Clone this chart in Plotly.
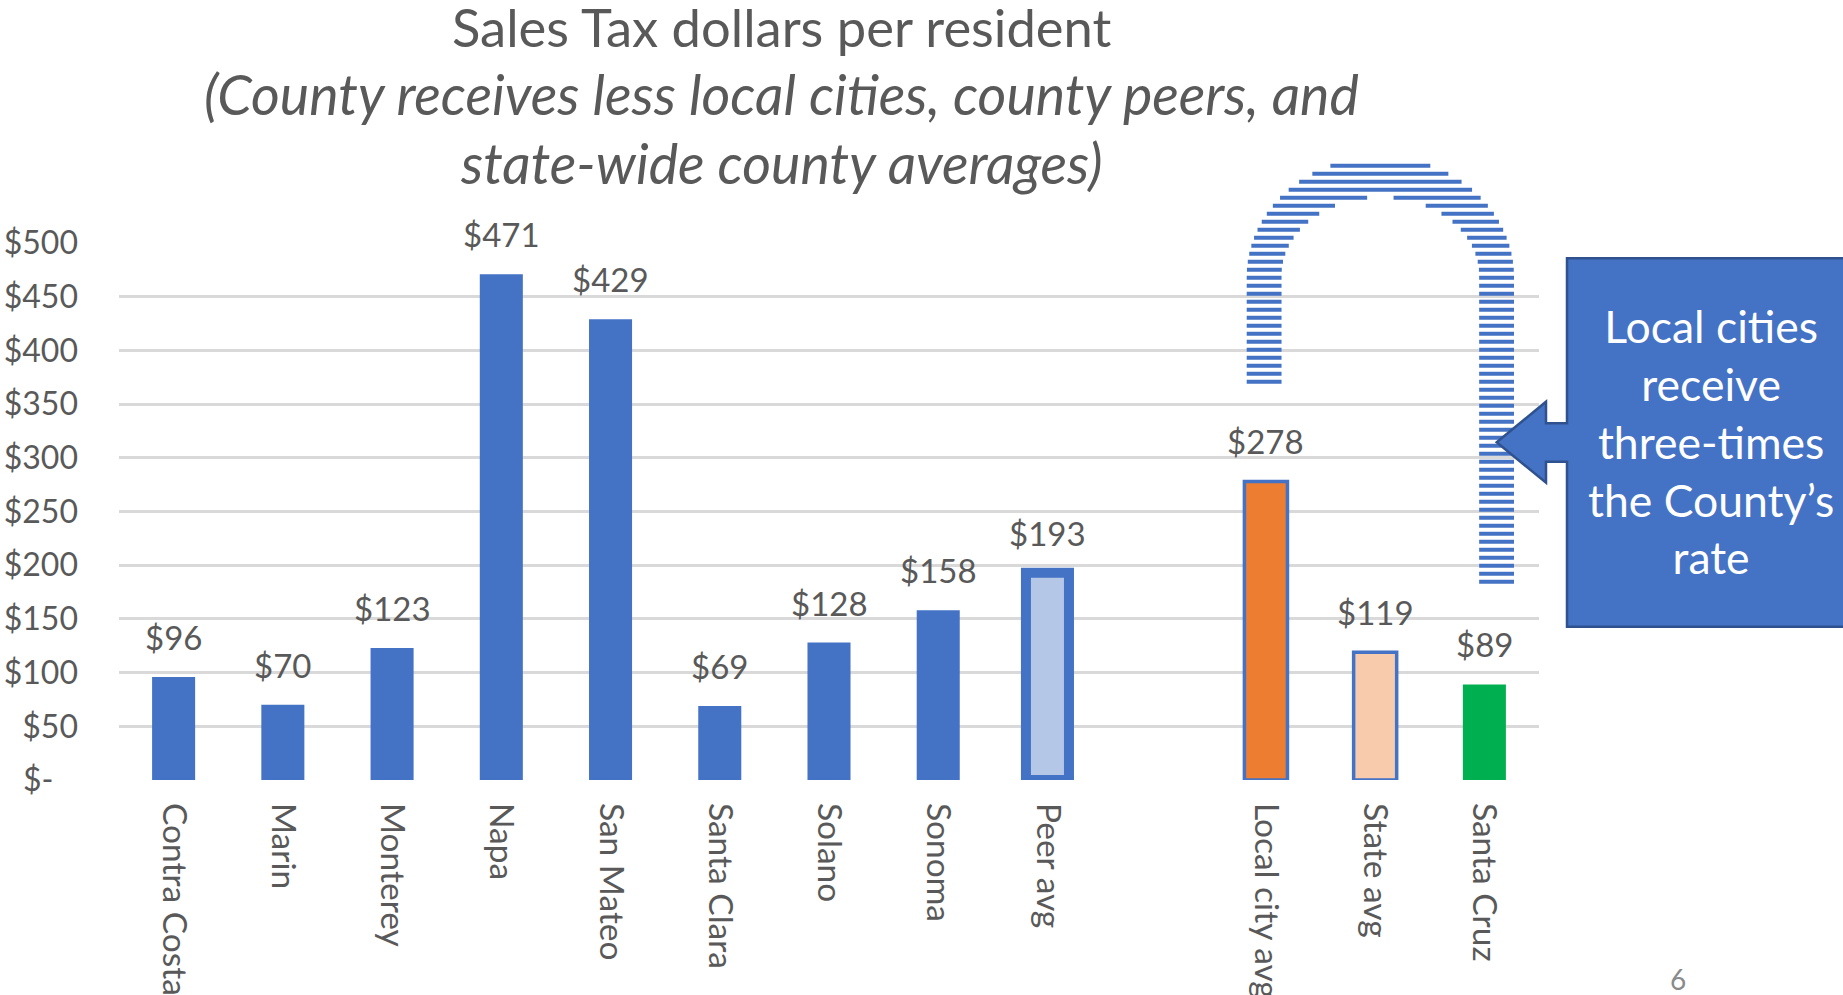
import math
import plotly.graph_objects as go

# ---------------- data ----------------
categories = ["Contra Costa", "Marin", "Monterey", "Napa", "San Mateo", "Santa Clara",
              "Solano", "Sonoma", "Peer avg", " ", "Local city avg", "State avg", "Santa Cruz"]
values = [96, 70, 123, 471, 429, 69, 128, 158, 193, None, 278, 119, 89]
fill_colors = ["#4472C4"] * 8 + ["#B4C7E7", "#FFFFFF", "#ED7D31", "#F8CBAD", "#00B050"]
line_colors = ["#4472C4"] * 8 + ["#4472C4", "#FFFFFF", "#4472C4", "#4472C4", "#00B050"]
line_widths = [0] * 8 + [10, 0, 3.5, 3.5, 0]

y_tick_vals = [0, 50, 100, 150, 200, 250, 300, 350, 400, 450, 500]
y_tick_text = ["$-\u00a0\u00a0\u00a0", "$50", "$100", "$150", "$200", "$250", "$300",
               "$350", "$400", "$450", "$500"]

title_line1 = "Sales Tax dollars per resident"
title_line2 = "(County receives less local cities, county peers, and"
title_line3 = "state-wide county averages)"
callout_text = "Local cities<br>receive<br>three-times<br>the County\u2019s<br>rate"
page_number = "6"

# ---------------- layout geometry (pixels) ----------------
W, H = 1843, 995
PL, PR, PT, PB = 119, 1539, 243, 780  # plot area edges


def px2x(x):
    return (x - PL) / (PR - PL)


def px2y(y):
    return (PB - y) / (PB - PT)


GRAY = "#595959"
FONT = "Lato"

fig = go.Figure()
fig.add_trace(go.Bar(
    x=categories, y=values, width=0.394,
    marker=dict(color=fill_colors, line=dict(color=line_colors, width=line_widths)),
    hoverinfo="x+y", showlegend=False,
))

annotations = []
# data labels
for c, v in zip(categories, values):
    if v is None:
        continue
    annotations.append(dict(x=c, y=v, xref="x", yref="y", text=f"${v}", showarrow=False,
                            yanchor="bottom", yshift=18,
                            font=dict(family=FONT, size=33, color=GRAY)))

# title lines
for txt, yc, fs in [(title_line1, 26, 52.5),
                    ("<i>" + title_line2 + "</i>", 94, 55.5),
                    ("<i>" + title_line3 + "</i>", 163, 55.5)]:
    annotations.append(dict(x=px2x(781), y=px2y(yc), xref="paper", yref="paper", text=txt,
                            showarrow=False, xanchor="center", yanchor="middle",
                            font=dict(family=FONT, size=fs, color=GRAY)))

# callout text
annotations.append(dict(x=px2x(1711), y=px2y(441), xref="paper", yref="paper", text=callout_text,
                        showarrow=False, xanchor="center", yanchor="middle", align="center",
                        font=dict(family=FONT, size=44.5, color="#FFFFFF")))
# page number
annotations.append(dict(x=px2x(1678), y=px2y(979), xref="paper", yref="paper", text=page_number,
                        showarrow=False, xanchor="center", yanchor="middle",
                        font=dict(family=FONT, size=28, color="#8A8A8A")))

shapes = []
# striped arch (decoration)
cx = (1246.7 + 1514.0) / 2
rx_o = (1514.0 - 1246.7) / 2
rx_i = (1479.3 - 1281.7) / 2
cy_o, ry_o, top_o = 277.0, 120.0, 164.0
cy_i, ry_i = 275.0, 78.0
left_bottom = 384.7
right_bottom = 583.7
pitch, thick = 8.0, 4.0
STRIPE = "#4472C4"


def half_width(ym, cyv, ryv, rxv):
    if ym >= cyv:
        return rxv
    d = cyv - ym
    if d >= ryv:
        return 0.0
    return rxv * math.sqrt(1 - (d / ryv) ** 2)


b = right_bottom
while (b - thick / 2) >= top_o:
    y0, y1 = b - thick, b
    ym = (y0 + y1) / 2
    hw_o = half_width(ym, cy_o, ry_o, rx_o)
    hw_i = half_width(ym, cy_i, ry_i, rx_i)
    segs = []
    if hw_i > 0:
        if ym <= left_bottom:
            segs.append((cx - hw_o, cx - hw_i))
        segs.append((cx + hw_i, cx + hw_o))
    elif hw_o > 0:
        segs.append((cx - hw_o, cx + hw_o))
    for xa, xb in segs:
        if xb - xa > 0.5:
            shapes.append(dict(type="rect", xref="paper", yref="paper",
                               x0=px2x(xa), x1=px2x(xb), y0=px2y(y1), y1=px2y(y0),
                               fillcolor=STRIPE, line=dict(width=0), layer="above"))
    b -= pitch

# callout box with arrow
pts = [(1567, 258.3), (1860, 258.3), (1860, 626.7), (1567, 626.7), (1567, 461.7),
       (1546, 461.7), (1546, 482.7), (1496.7, 442.3), (1546, 401.7), (1546, 423.3),
       (1567, 423.3)]
path = "M " + " L ".join(f"{px2x(x):.5f},{px2y(y):.5f}" for x, y in pts) + " Z"
shapes.append(dict(type="path", xref="paper", yref="paper", path=path,
                   fillcolor="#4472C4", line=dict(color="#2F528F", width=2.5), layer="above"))

fig.update_layout(
    width=W, height=H,
    margin=dict(l=PL, r=W - PR, t=PT, b=H - PB, pad=0),
    paper_bgcolor="white", plot_bgcolor="white",
    font=dict(family=FONT, color=GRAY),
    annotations=annotations, shapes=shapes,
    bargap=0.6,
    xaxis=dict(type="category", categoryorder="array", categoryarray=categories,
               tickangle=90, tickfont=dict(family=FONT, size=33.5, color=GRAY),
               showgrid=False, zeroline=False, showline=False, ticks="",
               ticklabelstandoff=22, automargin=False, fixedrange=True),
    yaxis=dict(range=[0, 500], tickvals=y_tick_vals, ticktext=y_tick_text,
               tickfont=dict(family=FONT, size=32, color=GRAY),
               showgrid=True, gridcolor="#D9D9D9", gridwidth=3, zeroline=False,
               showline=False, ticks="", ticklabelstandoff=40, automargin=False,
               fixedrange=True),
)

fig.write_html("out.html", config={"displayModeBar": False},
               post_script="document.body.style.margin='0';document.body.style.overflow='hidden';")
